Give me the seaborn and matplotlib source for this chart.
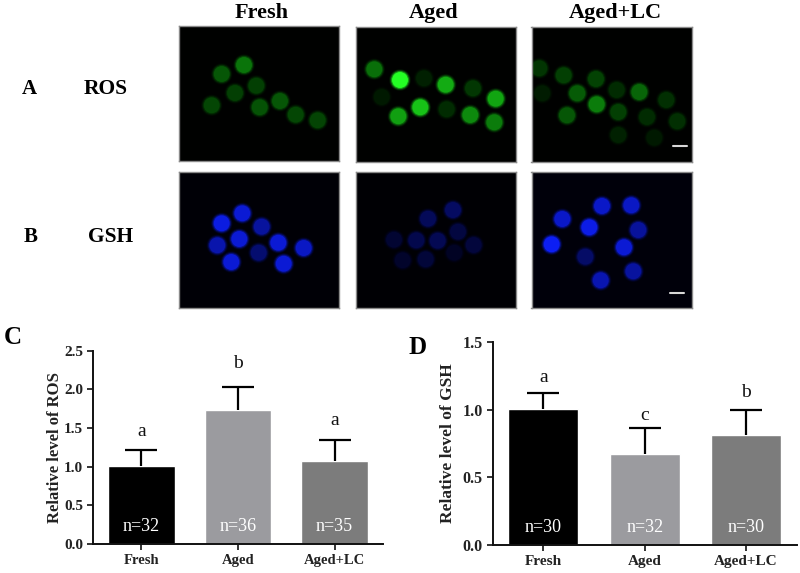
import matplotlib
matplotlib.use("Agg")
import matplotlib.pyplot as plt
import pandas as pd
import seaborn as sns

W, H = 800, 573

groups = ["Fresh", "Aged", "Aged+LC"]
bar_colors = ["#000000", "#9b9b9f", "#7c7c7c"]

# bar charts
ros_mean = [1.01, 1.73, 1.07]
ros_err = [0.20, 0.30, 0.28]
ros_letters = ["a", "b", "a"]
ros_letter_y = [1.45, 2.34, 1.60]
ros_n = ["n=32", "n=36", "n=35"]
ros_ticks = [0.0, 0.5, 1.0, 1.5, 2.0, 2.5]

gsh_mean = [1.005, 0.675, 0.81]
gsh_err = [0.12, 0.19, 0.19]
gsh_letters = ["a", "c", "b"]
gsh_letter_y = [1.235, 0.96, 1.125]
gsh_n = ["n=30", "n=32", "n=30"]
gsh_ticks = [0.0, 0.5, 1.0, 1.5]

# micrograph cells: x, y in image pixels and brightness
ros_fresh_x = [221.7, 244, 256.3, 235, 211.7, 259.7, 280, 295.7, 317.7]
ros_fresh_y = [74, 65, 85.7, 93, 105.3, 107.3, 101, 114.7, 120.3]
ros_fresh_v = [0.40, 0.52, 0.30, 0.30, 0.33, 0.38, 0.40, 0.33, 0.32]

ros_aged_x = [374.3, 400, 424, 445.7, 473, 495.7, 381.7, 420.3, 398.3, 446.7, 470.3, 494.3]
ros_aged_y = [69.3, 80, 78.3, 84.7, 88.3, 98.7, 97, 107.3, 116.3, 109.3, 115, 122.3]
ros_aged_v = [0.50, 1.00, 0.14, 0.72, 0.26, 0.70, 0.10, 0.80, 0.68, 0.20, 0.60, 0.55]

ros_lc_x = [539.3, 563.7, 596, 542.3, 577.3, 616.7, 639.3, 666.3, 596.7, 618.3, 567, 647, 677.3, 618.3, 654.3]
ros_lc_y = [68.3, 75.3, 79, 93.3, 93.3, 90, 92, 100, 104.3, 112, 115.3, 117, 121.3, 135, 137.7]
ros_lc_v = [0.25, 0.30, 0.31, 0.12, 0.42, 0.20, 0.46, 0.22, 0.55, 0.30, 0.40, 0.20, 0.22, 0.15, 0.10]

gsh_fresh_x = [221.7, 242.3, 261.7, 217.3, 239.3, 278.3, 303.7, 258.7, 231.3, 283.7]
gsh_fresh_y = [223.3, 213.3, 226.7, 245.3, 239, 242.7, 248, 252.7, 262, 263.7]
gsh_fresh_v = [0.90, 0.85, 0.62, 0.68, 0.85, 0.85, 0.78, 0.42, 0.85, 0.85]

gsh_aged_x = [453, 428, 458, 394, 416.3, 437.7, 473.7, 402.7, 425.7, 454.3]
gsh_aged_y = [210, 218.7, 231.7, 239.7, 240.3, 240.7, 245, 260.3, 259.3, 252.7]
gsh_aged_v = [0.36, 0.32, 0.22, 0.16, 0.27, 0.30, 0.20, 0.13, 0.19, 0.10]

gsh_lc_x = [602, 631.3, 562.3, 589.3, 638.3, 551.7, 624, 585.3, 633.3, 600.7]
gsh_lc_y = [206, 205.3, 219, 227.3, 230, 244.3, 247.3, 256.7, 271.3, 280.3]
gsh_lc_v = [0.80, 0.78, 0.80, 0.92, 0.60, 0.98, 0.85, 0.38, 0.62, 0.70]


def green(v):
    return (0.14 * v ** 2, 0.05 + 0.95 * v ** 1.3, 0.14 * v ** 2)


def blue(v):
    return (0.05 * v, 0.12 * v, 0.05 + 0.92 * v)


def px_axes(fig, left, top, right, bottom):
    return fig.add_axes([left / W, 1 - bottom / H, (right - left) / W, (bottom - top) / H])


def micrograph(fig, box, xs, ys, vs, color_fn, bg, bar=None):
    left, top, right, bottom = box
    ax = px_axes(fig, left, top, right, bottom)
    ax.set_facecolor(bg)
    df = pd.DataFrame({"x": xs, "y": ys, "v": vs})
    pal = {v: color_fn(v) for v in vs}
    # soft edge of the cells: stacked discs, the largest ones faint
    for scale, alpha in [(1.25, 0.08), (1.15, 0.2), (1.04, 0.45), (0.92, 1.0)]:
        sns.scatterplot(data=df, x="x", y="y", hue="v", palette=pal, s=(12.5 * scale) ** 2,
                        alpha=alpha, linewidth=0, legend=False, ax=ax)
    ax.set_xlim(left, right)
    ax.set_ylim(bottom, top)
    ax.set_xticks([])
    ax.set_yticks([])
    ax.set_xlabel("")
    ax.set_ylabel("")
    for s in ax.spines.values():
        s.set_color("#8a8a8a")
        s.set_linewidth(1.0)
    if bar:
        ax.plot(bar[:2], [bar[2], bar[2]], color="#d8d8d8", lw=1.5)
    return ax


def bar_panel(fig, box, ymax, means, errs, letters, letter_y, ns, ticks, ylabel, fs, label_x):
    ax = px_axes(fig, *box)
    df = pd.DataFrame({"group": groups, "value": means})
    sns.barplot(data=df, x="group", y="value", hue="group", palette=bar_colors, width=0.69,
                errorbar=None, legend=False, saturation=1, ax=ax)
    # upper error only, no cap on the bar top
    tops = [m + e for m, e in zip(means, errs)]
    ax.vlines(range(3), means, tops, color="black", lw=1.6, zorder=3)
    ax.plot(range(3), tops, ls="none", marker="_", ms=23, mew=1.6, color="black", zorder=3)
    for i in range(3):
        ax.text(i, letter_y[i], letters[i], ha="center", va="center", fontsize=14, color="#111111")
        ax.text(i, ymax * 0.088, ns[i], ha="center", va="center", fontsize=13, color="white")
    ax.set_xlim(-0.5, 2.5)
    ax.set_ylim(0, ymax)
    ax.set_yticks(ticks)
    ax.set_yticklabels([f"{t:.1f}" for t in ticks], fontsize=fs + 0.5, fontweight="bold", color="#222222")
    ax.set_xticks(range(3))
    ax.set_xticklabels(groups, fontsize=fs, fontweight="bold", color="#222222")
    ax.tick_params(axis="both", length=4, width=1.2, color="#111111", pad=3, left=True, bottom=True)
    ax.set_xlabel("")
    ax.set_ylabel("")
    sns.despine(ax=ax)
    for s in ["left", "bottom"]:
        ax.spines[s].set_linewidth(1.4)
        ax.spines[s].set_color("#111111")
    fig.text(label_x / W, 1 - (box[1] + box[3]) / 2 / H, ylabel, rotation=90, ha="center", va="center",
             fontsize=fs + 1.5, fontweight="bold", color="#222222")
    return ax


def main():
    sns.set_theme(style="white")
    plt.rcParams["font.family"] = ["Liberation Serif", "DejaVu Serif"]

    fig = plt.figure(figsize=(W / 100, H / 100), dpi=100, facecolor="white")

    micrograph(fig, (179, 26, 339, 161), ros_fresh_x, ros_fresh_y, ros_fresh_v, green, "#000100")
    micrograph(fig, (356, 27, 516, 162), ros_aged_x, ros_aged_y, ros_aged_v, green, "#000100")
    micrograph(fig, (531.5, 27, 691.5, 162), ros_lc_x, ros_lc_y, ros_lc_v, green, "#000100",
               bar=(672.7, 686.7, 146))
    micrograph(fig, (179, 172, 339, 308), gsh_fresh_x, gsh_fresh_y, gsh_fresh_v, blue, "#000006")
    micrograph(fig, (356, 172, 516, 308), gsh_aged_x, gsh_aged_y, gsh_aged_v, blue, "#000004")
    micrograph(fig, (531.5, 172, 691.5, 308), gsh_lc_x, gsh_lc_y, gsh_lc_v, blue, "#00000a",
               bar=(670, 684.3, 293))

    bar_panel(fig, (93, 350.7, 383, 544), 2.5, ros_mean, ros_err, ros_letters, ros_letter_y, ros_n, ros_ticks,
              "Relative level of ROS", 10.5, 55)
    bar_panel(fig, (492.7, 342, 796.7, 545), 1.5, gsh_mean, gsh_err, gsh_letters, gsh_letter_y, gsh_n, gsh_ticks,
              "Relative level of GSH", 11, 448)

    # column headers and panel letters
    for x, label in zip([261.7, 433.5, 615.5], groups):
        fig.text(x / W, 1 - 13 / H, label, ha="center", va="center", fontsize=16, fontweight="bold", color="black")
    for x, y, label, size in [(29, 89, "A", 15), (106, 89, "ROS", 15.5), (31, 237, "B", 15), (110.5, 237, "GSH", 15.5),
                              (13, 337, "C", 18), (418, 347, "D", 18)]:
        fig.text(x / W, 1 - y / H, label, ha="center", va="center", fontsize=size, fontweight="bold", color="black")

    fig.savefig("out.png", dpi=100)
    plt.close(fig)


if __name__ == "__main__":
    main()
